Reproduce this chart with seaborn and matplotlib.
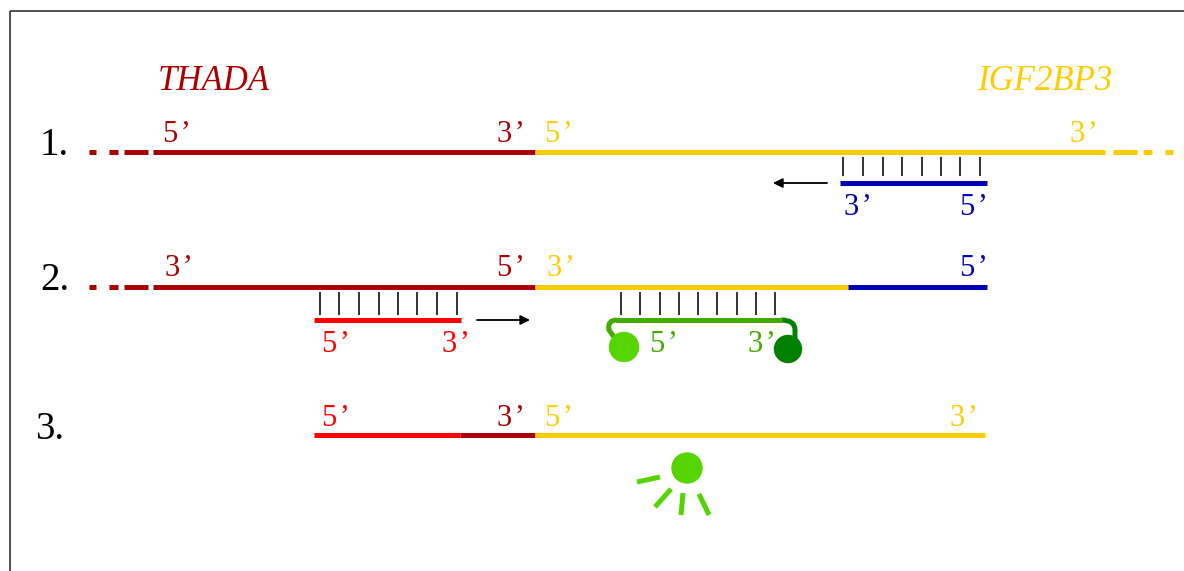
import numpy as np
import pandas as pd
import seaborn as sns
import matplotlib
matplotlib.use('Agg')
import matplotlib.pyplot as plt
from matplotlib.patches import Circle, PathPatch
from matplotlib.path import Path

DKRED = '#aa0000'
YELLOW = '#ffcc00'
BLUE = '#0000b4'
RED = '#ff0000'
GREEN = '#44aa00'
LTGREEN = '#55d400'
DKGREEN = '#008000'

# strand segments (pixel coords of the diagram)
seg_x0 = [89, 109, 124, 153, 535, 1113, 1143, 1165, 840,
          89, 109, 124, 153, 535, 848, 314, 616,
          314, 460, 535]
seg_x1 = [96, 118, 148, 535, 1105, 1137, 1152, 1173, 987,
          96, 118, 148, 535, 848, 987, 461, 782,
          460, 535, 985]
seg_y = [152] * 8 + [183] + [287] * 6 + [320, 320] + [435] * 3
seg_color = [DKRED] * 4 + [YELLOW] * 4 + [BLUE] + \
            [DKRED] * 4 + [YELLOW, BLUE, RED, GREEN] + [RED, DKRED, YELLOW]

# base-pairing ticks
blue_ticks = [843, 863, 883, 902, 922, 941, 960, 980]
red_ticks = [320, 339, 359, 379, 398, 417, 437, 457]
green_ticks = [621, 640, 660, 679, 698, 717, 737, 756, 775]

# end labels: text, x, baseline y, colour
lab_text = ['5’', '3’', '5’', '3’', '3’', '5’',
            '3’', '5’', '3’', '5’', '5’', '3’', '5’', '3’',
            '5’', '3’', '5’', '3’']
lab_x = [163, 497, 545, 1070, 844, 960,
         165, 497, 547, 960, 322, 442, 650, 748,
         322, 497, 545, 950]
lab_y = [142, 142, 142, 142, 215, 215,
         276, 276, 276, 276, 352, 352, 352, 352,
         426, 426, 426, 426]
lab_color = [DKRED, DKRED, YELLOW, YELLOW, BLUE, BLUE,
             DKRED, DKRED, YELLOW, BLUE, RED, RED, GREEN, GREEN,
             RED, DKRED, YELLOW, YELLOW]

step_text = ['1.', '2.', '3.']
step_x = [40, 40, 35]
step_y = [155, 290, 439]

gene_text = ['THADA', 'IGF2BP3']
gene_x = [158, 977]
gene_color = [DKRED, YELLOW]

# sun rays (x0, y0, x1, y1)
ray_x0 = [637, 655, 681, 709]
ray_y0 = [482, 507, 515, 515]
ray_x1 = [660, 671, 683, 699]
ray_y1 = [477, 489, 493, 494]

sns.set_theme(style='white')
serif = ['Liberation Serif', 'DejaVu Serif']

fig = plt.figure(figsize=(11.84, 5.71), dpi=100)
ax = fig.add_axes([0, 0, 1, 1])

LW = 3.6  # ~5 px

# strands through seaborn
rows = []
for i in range(len(seg_x0)):
    rows.append({'x': seg_x0[i], 'y': seg_y[i], 'seg': i})
    rows.append({'x': seg_x1[i], 'y': seg_y[i], 'seg': i})
df = pd.DataFrame(rows)
pal = {i: c for i, c in enumerate(seg_color)}
sns.lineplot(data=df, x='x', y='y', hue='seg', palette=pal, units='seg',
             estimator=None, sort=False, legend=False, lw=LW,
             solid_capstyle='butt', ax=ax)
ax.set_xlim(0, 1184)
ax.set_ylim(571, 0)
ax.axis('off')

# pairing ticks
ax.vlines(blue_ticks, 157, 176, color='#222222', lw=1.3)
ax.vlines(red_ticks, 292, 315, color='#222222', lw=1.3)
ax.vlines(green_ticks, 292, 315, color='#222222', lw=1.3)

# arrows
ax.annotate('', xy=(773, 183), xytext=(827, 183),
            arrowprops=dict(arrowstyle='-|>', color='black', lw=1.3,
                            mutation_scale=14, shrinkA=0, shrinkB=0))
ax.annotate('', xy=(530, 320), xytext=(477, 320),
            arrowprops=dict(arrowstyle='-|>', color='black', lw=1.3,
                            mutation_scale=14, shrinkA=0, shrinkB=0))

# probe hooks
left_hook = Path([(617, 320), (607, 320), (609, 330), (614, 337)],
                 [Path.MOVETO, Path.CURVE3, Path.CURVE3, Path.LINETO])
ax.add_patch(PathPatch(left_hook, fc='none', ec=GREEN, lw=LW, capstyle='butt'))
right_hook = Path([(781, 320), (795, 320), (795, 330), (795, 340)],
                  [Path.MOVETO, Path.CURVE3, Path.CURVE3, Path.LINETO])
ax.add_patch(PathPatch(right_hook, fc='none', ec=DKGREEN, lw=LW, capstyle='butt'))
ax.add_patch(Circle((624, 347), 14.5, color=LTGREEN, zorder=3))
ax.add_patch(Circle((788, 349), 13.5, color=DKGREEN, zorder=3))

# sun
ax.add_patch(Circle((687, 468), 15, color=LTGREEN, zorder=3))
for i in range(len(ray_x0)):
    ax.plot([ray_x0[i], ray_x1[i]], [ray_y0[i], ray_y1[i]], color=LTGREEN,
            lw=LW, solid_capstyle='butt')

# texts (hair gap before the prime, as in the original)
for t, x, y, c in zip(lab_text, lab_x, lab_y, lab_color):
    ax.text(x, y, t[0] + '\u200a' + t[1], color=c, fontsize=22, family=serif,
            ha='left', va='baseline')
for t, x, y in zip(step_text, step_x, step_y):
    ax.text(x, y, t, color='black', fontsize=28, family=serif, ha='left', va='baseline')
for t, x, c in zip(gene_text, gene_x, gene_color):
    ax.text(x, 90, t, color=c, fontsize=25, family=serif, style='italic',
            ha='left', va='baseline')

# frame (left and top)
ax.plot([10, 10], [571, 11], color='#333333', lw=1.2, solid_capstyle='butt')
ax.plot([10, 1184], [11, 11], color='#333333', lw=1.2, solid_capstyle='butt')

fig.savefig('out.png', dpi=100, facecolor='white')
